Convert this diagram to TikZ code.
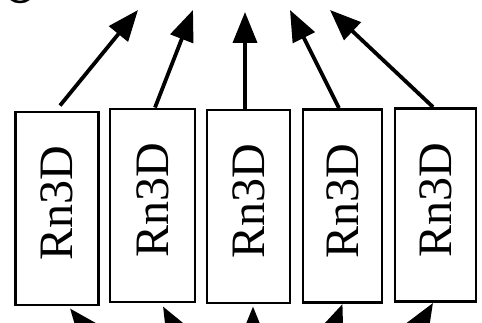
\documentclass[tikz,border=0pt]{standalone}
\usepackage{fontspec}
\usepackage{graphicx}
\setmainfont{Liberation Serif}
\usetikzlibrary{arrows.meta}
\begin{document}
\begin{tikzpicture}[x=1pt,y=-1pt,
  box/.style={draw=black, line width=2.9pt, fill=white, inner sep=0pt, minimum height=193pt},
  lbl/.style={inner sep=0pt, font=\fontsize{48}{48}\selectfont},
  arr/.style={line width=3.8pt, -{Triangle[length=31pt,width=24pt]}}]
\useasboundingbox (0,0) rectangle (482,323);
\clip (0,0) rectangle (482,323);
\fill[white] (0,0) rectangle (482,323);
% boxes
\node[box, minimum width=83pt] (b1) at (57,208.5) {};
\node[box, minimum width=85pt] (b2) at (152.5,205.5) {};
\node[box, minimum width=83pt] (b3) at (248.5,206.5) {};
\node[box, minimum width=79pt] (b4) at (342.5,206) {};
\node[box, minimum width=81pt] (b5) at (435.5,205) {};
% labels
\node[lbl] (l1) at ([yshift=5pt]b1.center) {\rotatebox{90}{Rn3D}};
\node[lbl] (l2) at ([yshift=5pt]b2.center) {\rotatebox{90}{Rn3D}};
\node[lbl] (l3) at ([yshift=5pt]b3.center) {\rotatebox{90}{Rn3D}};
\node[lbl] (l4) at ([yshift=5pt]b4.center) {\rotatebox{90}{Rn3D}};
\node[lbl] (l5) at ([yshift=5pt]b5.center) {\rotatebox{90}{Rn3D}};
% top targets
\coordinate (t1) at (138,10);
\coordinate (t2) at (193,10);
\coordinate (t3) at (245,12);
\coordinate (t4) at (290,10);
\coordinate (t5) at (330,10);
\draw[arr] ([xshift=3pt,yshift=5pt]b1.north) -- (t1);
\draw[arr] ([xshift=2.5pt]b2.north) -- (t2);
\draw[arr] ([xshift=-3.5pt]b3.north) -- (t3);
\draw[arr] ([xshift=-3.5pt]b4.north) -- (t4);
\draw[arr] ([xshift=-2.5pt]b5.north) -- (t5);
% bottom sources (outside the frame)
\coordinate (s1) at (119,370);
\coordinate (s2) at (200.5,375.6);
\coordinate (s3) at (253,385);
\coordinate (s4) at (314.6,378);
\coordinate (s5) at (393,370);
\draw[arr] (s1) -- ([xshift=13pt,yshift=-2pt]b1.south);
\draw[arr] (s2) -- ([xshift=10.5pt,yshift=-3pt]b2.south);
\draw[arr] (s3) -- ([xshift=4.5pt,yshift=-2pt]b3.south);
\draw[arr] (s4) -- ([yshift=0pt]b4.south);
\draw[arr] (s5) -- ([xshift=-2.5pt]b5.south);
% fragment at top left
\draw[line width=2.5pt] (11,-1) .. controls (15,3) and (25,3) .. (29,-1);
\end{tikzpicture}
\end{document}
